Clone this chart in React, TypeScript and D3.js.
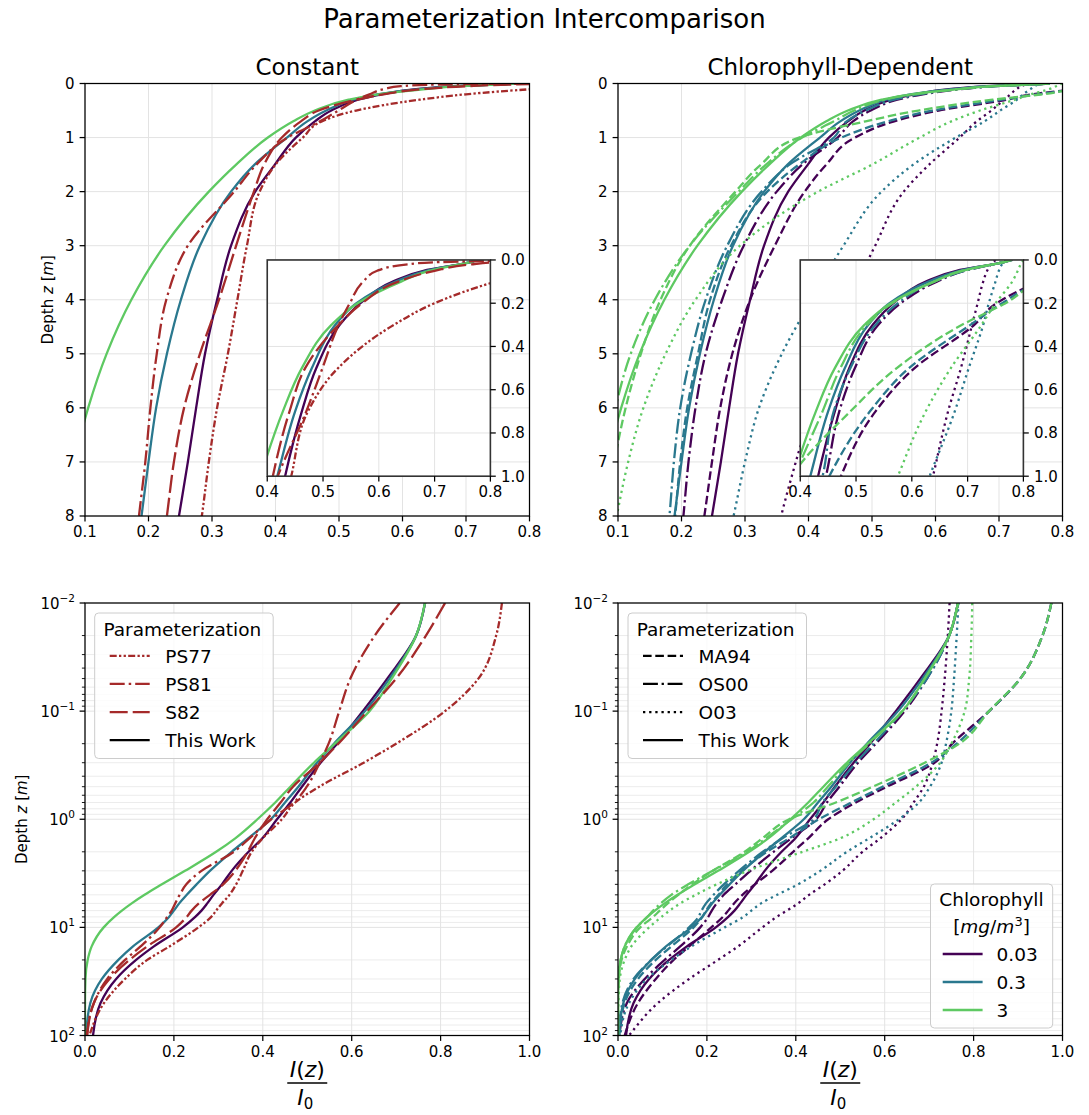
import React from 'react';
import * as d3 from 'd3';

// ---------------- DATA ----------------
// depth grid [m]
const DEPTHS = [0, 0.01, 0.02, 0.05, 0.1, 0.2, 0.3, 0.5, 0.7, 1, 1.5, 2, 3, 4, 5, 6, 7, 8, 10, 15, 20, 30, 50, 100];

// This Work (same in both columns), by chlorophyll
const TW_003 = [0.775, 0.765, 0.745, 0.68, 0.625, 0.567, 0.53, 0.488, 0.462, 0.432, 0.399, 0.368, 0.33, 0.308, 0.289, 0.275, 0.262, 0.248, 0.22, 0.155, 0.115, 0.07, 0.035, 0.018];
const TW_03 = [0.775, 0.765, 0.745, 0.685, 0.63, 0.56, 0.522, 0.48, 0.45, 0.418, 0.367, 0.33, 0.281, 0.251, 0.229, 0.212, 0.2, 0.189, 0.165, 0.108, 0.075, 0.038, 0.012, 0.002];
const TW_3 = [0.775, 0.765, 0.745, 0.69, 0.64, 0.562, 0.515, 0.462, 0.428, 0.388, 0.338, 0.295, 0.225, 0.173, 0.134, 0.105, 0.083, 0.066, 0.042, 0.015, 0.006, 0.001, 0, 0];

// Constant parameterizations
const PS77 = [0.97, 0.938, 0.925, 0.885, 0.81, 0.7, 0.627, 0.527, 0.473, 0.443, 0.4, 0.375, 0.355, 0.34, 0.325, 0.308, 0.295, 0.284, 0.255, 0.19, 0.14, 0.09, 0.043, 0.01];
const PS81 = [0.88, 0.708, 0.652, 0.597, 0.572, 0.548, 0.528, 0.499, 0.47, 0.419, 0.37, 0.335, 0.262, 0.228, 0.213, 0.203, 0.195, 0.185, 0.168, 0.125, 0.09, 0.05, 0.02, 0.004];
const S82 = [0.88, 0.81, 0.767, 0.7, 0.635, 0.57, 0.528, 0.468, 0.44, 0.41, 0.382, 0.366, 0.338, 0.311, 0.281, 0.256, 0.24, 0.229, 0.205, 0.14, 0.1, 0.055, 0.02, 0.005];

// Chlorophyll-dependent parameterizations
const MA94_003 = [1.0, 0.975, 0.955, 0.905, 0.835, 0.752, 0.712, 0.605, 0.535, 0.473, 0.428, 0.394, 0.347, 0.308, 0.28, 0.261, 0.248, 0.236, 0.21, 0.16, 0.125, 0.085, 0.045, 0.015];
const MA94_03 = [1.0, 0.975, 0.955, 0.905, 0.835, 0.762, 0.705, 0.595, 0.525, 0.452, 0.385, 0.335, 0.278, 0.245, 0.226, 0.209, 0.198, 0.19, 0.17, 0.12, 0.085, 0.045, 0.015, 0.003];
const MA94_3 = [1.0, 0.975, 0.955, 0.905, 0.835, 0.768, 0.69, 0.573, 0.49, 0.385, 0.325, 0.285, 0.213, 0.167, 0.136, 0.112, 0.094, 0.079, 0.05, 0.02, 0.008, 0.002, 0, 0];
const OS00_003 = [0.78, 0.765, 0.745, 0.695, 0.645, 0.58, 0.54, 0.498, 0.47, 0.446, 0.39, 0.35, 0.298, 0.264, 0.238, 0.222, 0.211, 0.203, 0.185, 0.14, 0.105, 0.06, 0.02, 0.003];
const OS00_03 = [0.78, 0.765, 0.745, 0.695, 0.64, 0.575, 0.535, 0.49, 0.46, 0.44, 0.37, 0.326, 0.272, 0.238, 0.215, 0.198, 0.188, 0.181, 0.16, 0.11, 0.075, 0.035, 0.01, 0.001];
const OS00_3 = [0.78, 0.765, 0.745, 0.69, 0.64, 0.565, 0.52, 0.472, 0.44, 0.39, 0.333, 0.29, 0.213, 0.158, 0.12, 0.096, 0.079, 0.066, 0.042, 0.015, 0.006, 0.001, 0, 0];
const O03_003 = [0.75, 0.746, 0.742, 0.735, 0.728, 0.718, 0.708, 0.688, 0.665, 0.638, 0.59, 0.55, 0.505, 0.465, 0.43, 0.405, 0.38, 0.357, 0.325, 0.27, 0.225, 0.16, 0.09, 0.025];
const O03_03 = [0.77, 0.766, 0.762, 0.756, 0.75, 0.738, 0.728, 0.702, 0.677, 0.632, 0.565, 0.515, 0.455, 0.405, 0.358, 0.322, 0.3, 0.282, 0.24, 0.165, 0.12, 0.065, 0.025, 0.005];
const O03_3 = [0.8, 0.797, 0.795, 0.79, 0.78, 0.75, 0.725, 0.67, 0.625, 0.575, 0.5, 0.415, 0.292, 0.222, 0.175, 0.14, 0.116, 0.098, 0.07, 0.03, 0.015, 0.004, 0.001, 0];

// labels & ticks
const CHL_LABELS = ['0.03', '0.3', '3'];
const CONST_NAMES = ['PS77', 'PS81', 'S82', 'This Work'];
const CHL_NAMES = ['MA94', 'OS00', 'O03', 'This Work'];
const TOP_X_TICKS = [0.1, 0.2, 0.3, 0.4, 0.5, 0.6, 0.7, 0.8];
const TOP_Y_TICKS = [0, 1, 2, 3, 4, 5, 6, 7, 8];
const INSET_X_TICKS = [0.4, 0.5, 0.6, 0.7, 0.8];
const INSET_Y_TICKS = [0, 0.2, 0.4, 0.6, 0.8, 1.0];
const LOG_EXPONENTS = [-2, -1, 0, 1, 2];
const BOTTOM_X_TICKS = [0, 0.2, 0.4, 0.6, 0.8, 1.0];

// ---------------- STYLE ----------------
const FONT = "'DejaVu Sans', sans-serif";
const COLORS = ['#440154', '#2a788e', '#5ec962'];
const BROWN = '#a52a2a';
const LW = 2.3;
const DASH = {
  solid: null as string | null,
  ps77: '7,2.3,2.3,2.3,2.3,2.3',
  ps81: '15,4,2.5,4',
  s82: '18,5',
  dashed: '8.6,3.7',
  dashdot: '14.9,3.7,2.3,3.7',
  dotted: '2.3,3.85',
};

type Series = { values: number[]; color: string; dash: string | null };

const CONST_SERIES: Series[] = [
  { values: TW_003, color: COLORS[0], dash: DASH.solid },
  { values: TW_03, color: COLORS[1], dash: DASH.solid },
  { values: TW_3, color: COLORS[2], dash: DASH.solid },
  { values: PS77, color: BROWN, dash: DASH.ps77 },
  { values: PS81, color: BROWN, dash: DASH.ps81 },
  { values: S82, color: BROWN, dash: DASH.s82 },
];

const CHL_GROUPS = [
  [MA94_003, OS00_003, O03_003, TW_003],
  [MA94_03, OS00_03, O03_03, TW_03],
  [MA94_3, OS00_3, O03_3, TW_3],
];
const CHL_DASHES = [DASH.dashed, DASH.dashdot, DASH.dotted, DASH.solid];
const CHL_SERIES: Series[] = [];
CHL_GROUPS.forEach((g, ci) => g.forEach((vals, pi) => CHL_SERIES.push({ values: vals, color: COLORS[ci], dash: CHL_DASHES[pi] })));

type Box = { x0: number; x1: number; y0: number; y1: number };
const PA: Box = { x0: 85, x1: 529.5, y0: 83.5, y1: 516 };
const PB: Box = { x0: 618, x1: 1062.5, y0: 83.5, y1: 516 };
const PC: Box = { x0: 85, x1: 529.5, y0: 603, y1: 1035.5 };
const PD: Box = { x0: 618, x1: 1062.5, y0: 603, y1: 1035.5 };

const SPINE = 1.25;
const TICK = 5.4;
const GRID = '#e3e3e3';
const MINOR_GRID = '#ececec';

function seriesPath(s: Series, xs: (v: number) => number, ys: (v: number) => number, maxZ: number, log: boolean) {
  const pts: [number, number][] = [];
  DEPTHS.forEach((z, i) => {
    if (log && z <= 0) return;
    if (z > maxZ) return;
    pts.push([xs(s.values[i]), ys(z)]);
  });
  return d3.line().curve(d3.curveMonotoneY)(pts) || '';
}

function Lines({ series, xs, ys, maxZ, log, clip }: any) {
  return (
    <g clipPath={`url(#${clip})`}>
      {series.map((s: Series, i: number) => (
        <path key={i} d={seriesPath(s, xs, ys, maxZ, log)} fill="none" stroke={s.color} strokeWidth={LW}
          strokeDasharray={s.dash || undefined} strokeLinecap={s.dash ? 'butt' : 'square'} strokeLinejoin="round" />
      ))}
    </g>
  );
}

function fmt1(v: number) { return v.toFixed(1); }

function Inset({ p, series, id }: { p: Box; series: Series[]; id: string }) {
  const w = p.x1 - p.x0, h = p.y1 - p.y0;
  const b: Box = { x0: p.x0 + 0.41 * w, x1: p.x0 + 0.41 * w + 0.502 * w, y0: p.y0 + 0.408 * h, y1: p.y0 + 0.408 * h + 0.5 * h };
  const xs = d3.scaleLinear().domain([0.4, 0.8]).range([b.x0, b.x1]);
  const ys = d3.scaleLinear().domain([0, 1]).range([b.y0, b.y1]);
  return (
    <g>
      <clipPath id={id}><rect x={b.x0} y={b.y0} width={b.x1 - b.x0} height={b.y1 - b.y0} /></clipPath>
      <rect x={b.x0} y={b.y0} width={b.x1 - b.x0} height={b.y1 - b.y0} fill="#fff" />
      {INSET_X_TICKS.map(t => <line key={'gx' + t} x1={xs(t)} x2={xs(t)} y1={b.y0} y2={b.y1} stroke={GRID} strokeWidth={1} />)}
      {INSET_Y_TICKS.map(t => <line key={'gy' + t} x1={b.x0} x2={b.x1} y1={ys(t)} y2={ys(t)} stroke={GRID} strokeWidth={1} />)}
      <Lines series={series} xs={xs} ys={ys} maxZ={2} log={false} clip={id} />
      <rect x={b.x0} y={b.y0} width={b.x1 - b.x0} height={b.y1 - b.y0} fill="none" stroke="#333" strokeWidth={1.6} />
      {INSET_X_TICKS.map(t => (
        <g key={'tx' + t}>
          <line x1={xs(t)} x2={xs(t)} y1={b.y1} y2={b.y1 + TICK} stroke="#000" strokeWidth={SPINE} />
          <text x={xs(t)} y={b.y1 + 21} textAnchor="middle" fontSize={15} fontFamily={FONT}>{fmt1(t)}</text>
        </g>
      ))}
      {INSET_Y_TICKS.map(t => (
        <g key={'ty' + t}>
          <line x1={b.x1} x2={b.x1 + TICK} y1={ys(t)} y2={ys(t)} stroke="#000" strokeWidth={SPINE} />
          <text x={b.x1 + 10.5} y={ys(t)} dy="0.36em" textAnchor="start" fontSize={15} fontFamily={FONT}>{fmt1(t)}</text>
        </g>
      ))}
    </g>
  );
}

function DepthLabel({ x, y }: { x: number; y: number }) {
  return (
    <text transform={`translate(${x},${y}) rotate(-90)`} textAnchor="middle" fontSize={15} fontFamily={FONT}>
      Depth <tspan fontStyle="italic">z</tspan> [<tspan fontStyle="italic">m</tspan>]
    </text>
  );
}

function TopPanel({ p, series, id, title, yLabel }: { p: Box; series: Series[]; id: string; title: string; yLabel: boolean }) {
  const xs = d3.scaleLinear().domain([0.1, 0.8]).range([p.x0, p.x1]);
  const ys = d3.scaleLinear().domain([0, 8]).range([p.y0, p.y1]);
  return (
    <g>
      <clipPath id={id}><rect x={p.x0} y={p.y0} width={p.x1 - p.x0} height={p.y1 - p.y0} /></clipPath>
      {TOP_X_TICKS.map(t => <line key={'gx' + t} x1={xs(t)} x2={xs(t)} y1={p.y0} y2={p.y1} stroke={GRID} strokeWidth={1} />)}
      {TOP_Y_TICKS.map(t => <line key={'gy' + t} x1={p.x0} x2={p.x1} y1={ys(t)} y2={ys(t)} stroke={GRID} strokeWidth={1} />)}
      <Lines series={series} xs={xs} ys={ys} maxZ={12} log={false} clip={id} />
      <Inset p={p} series={series} id={id + 'in'} />
      <rect x={p.x0} y={p.y0} width={p.x1 - p.x0} height={p.y1 - p.y0} fill="none" stroke="#000" strokeWidth={SPINE} />
      {TOP_X_TICKS.map(t => (
        <g key={'tx' + t}>
          <line x1={xs(t)} x2={xs(t)} y1={p.y1} y2={p.y1 + TICK} stroke="#000" strokeWidth={SPINE} />
          <text x={xs(t)} y={p.y1 + 21} textAnchor="middle" fontSize={15} fontFamily={FONT}>{fmt1(t)}</text>
        </g>
      ))}
      {TOP_Y_TICKS.map(t => (
        <g key={'ty' + t}>
          <line x1={p.x0 - TICK} x2={p.x0} y1={ys(t)} y2={ys(t)} stroke="#000" strokeWidth={SPINE} />
          <text x={p.x0 - 10.5} y={ys(t)} dy="0.36em" textAnchor="end" fontSize={15} fontFamily={FONT}>{t}</text>
        </g>
      ))}
      <text x={(p.x0 + p.x1) / 2} y={75} textAnchor="middle" fontSize={23} fontFamily={FONT}>{title}</text>
      {yLabel && <DepthLabel x={53} y={(p.y0 + p.y1) / 2} />}
    </g>
  );
}

function LegendBox({ x, y, w, h }: { x: number; y: number; w: number; h: number }) {
  return <rect x={x} y={y} width={w} height={h} rx={4} fill="#fff" fillOpacity={0.8} stroke="#cccccc" strokeWidth={1} />;
}

function LogPanel({ p, series, id, yLabel, children }: any) {
  const xs = d3.scaleLinear().domain([0, 1]).range([p.x0, p.x1]);
  const ys = d3.scaleLog().domain([0.01, 100]).range([p.y0, p.y1]);
  const minors: number[] = [];
  LOG_EXPONENTS.slice(0, -1).forEach(e => { for (let k = 2; k <= 9; k++) minors.push(k * Math.pow(10, e)); });
  const cx = (p.x0 + p.x1) / 2;
  return (
    <g>
      <clipPath id={id}><rect x={p.x0} y={p.y0} width={p.x1 - p.x0} height={p.y1 - p.y0} /></clipPath>
      {minors.map(m => <line key={'gm' + m} x1={p.x0} x2={p.x1} y1={ys(m)} y2={ys(m)} stroke={MINOR_GRID} strokeWidth={1} />)}
      {BOTTOM_X_TICKS.map(t => <line key={'gx' + t} x1={xs(t)} x2={xs(t)} y1={p.y0} y2={p.y1} stroke={GRID} strokeWidth={1} />)}
      {LOG_EXPONENTS.map(e => <line key={'gy' + e} x1={p.x0} x2={p.x1} y1={ys(Math.pow(10, e))} y2={ys(Math.pow(10, e))} stroke={GRID} strokeWidth={1} />)}
      <Lines series={series} xs={xs} ys={ys} maxZ={1000} log={true} clip={id} />
      <rect x={p.x0} y={p.y0} width={p.x1 - p.x0} height={p.y1 - p.y0} fill="none" stroke="#000" strokeWidth={SPINE} />
      {BOTTOM_X_TICKS.map(t => (
        <g key={'tx' + t}>
          <line x1={xs(t)} x2={xs(t)} y1={p.y1} y2={p.y1 + TICK} stroke="#000" strokeWidth={SPINE} />
          <text x={xs(t)} y={p.y1 + 21} textAnchor="middle" fontSize={15} fontFamily={FONT}>{fmt1(t)}</text>
        </g>
      ))}
      {minors.map(m => <line key={'tm' + m} x1={p.x0 - 3.1} x2={p.x0} y1={ys(m)} y2={ys(m)} stroke="#000" strokeWidth={0.9} />)}
      {LOG_EXPONENTS.map(e => (
        <g key={'ty' + e}>
          <line x1={p.x0 - TICK} x2={p.x0} y1={ys(Math.pow(10, e))} y2={ys(Math.pow(10, e))} stroke="#000" strokeWidth={SPINE} />
          <text x={p.x0 - 10} y={ys(Math.pow(10, e)) + 6} textAnchor="end" fontSize={15} fontFamily={FONT}>
            10<tspan dy={-7} fontSize={10.5}>{e < 0 ? '\u2212' + Math.abs(e) : String(e)}</tspan>
          </text>
        </g>
      ))}
      {yLabel && <DepthLabel x={27} y={(p.y0 + p.y1) / 2} />}
      <text x={cx} y={1077} textAnchor="middle" fontSize={22} fontFamily={FONT}>
        <tspan fontStyle="italic">I</tspan>(<tspan fontStyle="italic">z</tspan>)
      </text>
      <line x1={cx - 20} x2={cx + 20} y1={1083} y2={1083} stroke="#000" strokeWidth={1.3} />
      <text x={cx - 2} y={1105} textAnchor="middle" fontSize={22} fontFamily={FONT}>
        <tspan fontStyle="italic">I</tspan><tspan fontSize={15} dy={4}>0</tspan>
      </text>
      {children}
    </g>
  );
}

function ParamLegend({ x, names, dashes, colors }: { x: number; names: string[]; dashes: (string | null)[]; colors: string[] }) {
  const rows = [655.8, 683.8, 712.1, 740.1];
  return (
    <g fontFamily={FONT}>
      <LegendBox x={x} y={613} w={178.5} h={145.5} />
      <text x={x + 8.7} y={635.5} fontSize={18.5}>Parameterization</text>
      {names.map((n, i) => (
        <g key={n}>
          <line x1={x + 15} x2={x + 55} y1={rows[i]} y2={rows[i]} stroke={colors[i]} strokeWidth={LW} strokeDasharray={dashes[i] || undefined} />
          <text x={x + 70.6} y={rows[i] + 6.7} fontSize={18.5}>{n}</text>
        </g>
      ))}
    </g>
  );
}

function ChlLegend() {
  const x = 930.5, cx = 991.5;
  const rows = [954, 982, 1010];
  return (
    <g fontFamily={FONT}>
      <LegendBox x={x} y={884} w={122.2} h={144} />
      <text x={cx} y={906} textAnchor="middle" fontSize={18.5}>Chlorophyll</text>
      <text x={cx} y={933} textAnchor="middle" fontSize={18.5}>
        [<tspan fontStyle="italic">mg</tspan>/<tspan fontStyle="italic">m</tspan><tspan dy={-7} fontSize={13}>3</tspan><tspan dy={7}>]</tspan>
      </text>
      {CHL_LABELS.map((l, i) => (
        <g key={l}>
          <line x1={942.7} x2={982.6} y1={rows[i]} y2={rows[i]} stroke={COLORS[i]} strokeWidth={LW} />
          <text x={996.5} y={rows[i] + 6.7} fontSize={18.5}>{l}</text>
        </g>
      ))}
    </g>
  );
}

export default function App() {
  return (
    <div style={{ position: 'absolute', left: 0, top: 0, width: 1089, height: 1115, background: '#fff' }}>
      <svg width={1089} height={1115} viewBox="0 0 1089 1115" style={{ display: 'block' }}>
        <rect x={0} y={0} width={1089} height={1115} fill="#fff" />
        <text x={544.5} y={28} textAnchor="middle" fontSize={26} fontFamily={FONT}>Parameterization Intercomparison</text>
        <TopPanel p={PA} series={CONST_SERIES} id="clipA" title="Constant" yLabel={true} />
        <TopPanel p={PB} series={CHL_SERIES} id="clipB" title="Chlorophyll-Dependent" yLabel={false} />
        <LogPanel p={PC} series={CONST_SERIES} id="clipC" yLabel={true}>
          <ParamLegend x={94.7} names={CONST_NAMES} dashes={[DASH.ps77, DASH.ps81, DASH.s82, null]} colors={[BROWN, BROWN, BROWN, '#000']} />
        </LogPanel>
        <LogPanel p={PD} series={CHL_SERIES} id="clipD" yLabel={false}>
          <ParamLegend x={628} names={CHL_NAMES} dashes={[DASH.dashed, DASH.dashdot, DASH.dotted, null]} colors={['#000', '#000', '#000', '#000']} />
          <ChlLegend />
        </LogPanel>
      </svg>
    </div>
  );
}
